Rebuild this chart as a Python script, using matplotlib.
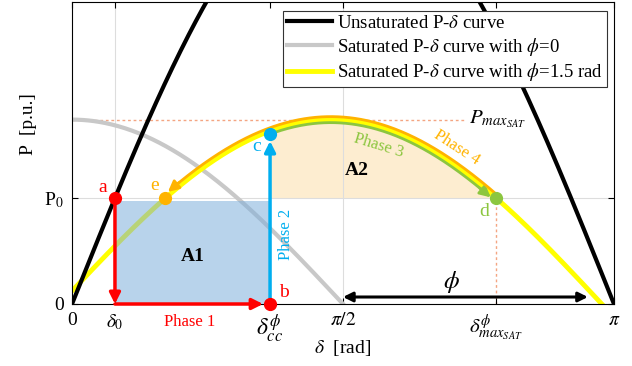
import numpy as np
import matplotlib
matplotlib.use("Agg")
import matplotlib.pyplot as plt

plt.rcParams['font.family'] = ['Liberation Serif', 'DejaVu Serif']
plt.rcParams['mathtext.fontset'] = 'stix'

# parametros do caso (p.u. / rad)
P0 = 1.0
Pmax_sat = 1.74
phi = 1.5
delta0 = 0.249
delta_cc = 1.148
Pmax_unsat = P0 / np.sin(delta0)
delta_max = phi + np.arccos(P0 / Pmax_sat)
delta_e = phi - np.arccos(P0 / Pmax_sat)

xtick_labels = ['0', r'$\delta_0$', r'$\delta_{cc}^{\phi}$', r'$\pi/2$',
                r'$\delta^{\phi}_{max_{SAT}}$', r'$\pi$']
ytick_labels = ['0', r'P$_0$']
legend_labels = [r'Unsaturated P-$\delta$ curve',
                 r'Saturated P-$\delta$ curve with $\phi$=0',
                 r'Saturated P-$\delta$ curve with $\phi$=1.5 rad']

YELLOW = '#ffff00'
ORANGE = '#ffb300'
GREEN = '#8cc63f'
CYAN = '#00aeef'
RED = '#ff0000'
SALMON = '#f4a582'


def sat(d, ph):
    return Pmax_sat * np.cos(d - ph)


fig = plt.figure(figsize=(6.32, 3.66), dpi=100)
ax = fig.add_axes([72 / 632, 62 / 366, 542 / 632, 302 / 366])
ax.set_xlim(0, np.pi)
ax.set_ylim(0, 2.85)


def offset_curve(x, y, d_px):
    # desloca a curva na direcao normal (em pixels)
    pts = ax.transData.transform(np.c_[x, y])
    dx = np.gradient(pts[:, 0])
    dy = np.gradient(pts[:, 1])
    n = np.hypot(dx, dy)
    pts[:, 0] += -dy / n * d_px
    pts[:, 1] += dx / n * d_px
    out = ax.transData.inverted().transform(pts)
    return out[:, 0], out[:, 1]


# grade
for xv in [delta0, np.pi / 2]:
    ax.axvline(xv, color='#dddddd', lw=0.8, zorder=0.5)
ax.axhline(P0, color='#dddddd', lw=0.8, zorder=0.5)

# curvas
d = np.linspace(0, np.pi, 400)
l1, = ax.plot(d, Pmax_unsat * np.sin(d), color='black', lw=3, zorder=3)
dg = np.linspace(0, np.pi / 2, 200)
l2, = ax.plot(dg, sat(dg, 0), color='#c8c8c8', lw=3, zorder=2)
dy_ = np.linspace(0, phi + np.pi / 2, 400)
l3, = ax.plot(dy_, sat(dy_, phi), color=YELLOW, lw=3.5, zorder=2.5)

# area A2
da = np.linspace(delta_cc, delta_max, 200)
ax.fill_between(da, P0, sat(da, phi), color='#fbd38a', alpha=0.4, lw=0, zorder=0.4)

# area A1
ax.fill_between([delta0, delta_cc], 0, P0 * 0.97, color='#7fb0dc', alpha=0.55,
                lw=0, zorder=3.5)

# Pmax e delta_max tracejados
ax.plot([0, 2.27], [Pmax_sat, Pmax_sat], ls=(0, (2, 2)), color=SALMON, lw=1, zorder=1)
ax.plot([delta_max, delta_max], [0, P0], ls=(0, (2, 2)), color=SALMON, lw=1, zorder=1)

# fase 3 (verde, abaixo da curva)
d3 = np.linspace(delta_cc + 0.02, delta_max, 200)
x3, y3 = offset_curve(d3, sat(d3, phi), -3)
ax.plot(x3[:-12], y3[:-12], color=GREEN, lw=2, zorder=4)
ax.annotate('', xy=(x3[-4], y3[-4]), xytext=(x3[-14], y3[-14]),
            arrowprops=dict(arrowstyle='-|>', color=GREEN, lw=2,
                            mutation_scale=16, shrinkA=0, shrinkB=0), zorder=4)

# fase 4 (laranja, acima da curva)
d4 = np.linspace(delta_max, delta_e, 300)
x4, y4 = offset_curve(d4, sat(d4, phi), -3)
ax.plot(x4[:-12], y4[:-12], color=ORANGE, lw=2, zorder=4)
ax.annotate('', xy=(x4[-5], y4[-5]), xytext=(x4[-15], y4[-15]),
            arrowprops=dict(arrowstyle='-|>', color=ORANGE, lw=2,
                            mutation_scale=16, shrinkA=0, shrinkB=0), zorder=4)

# fase 1 e 2
arr = dict(arrowstyle='-|>', lw=2.5, mutation_scale=16, shrinkA=0, shrinkB=0)
ax.annotate('', xy=(delta0, 0.0), xytext=(delta0, P0),
            arrowprops=dict(arr, color=RED), zorder=5)
ax.annotate('', xy=(delta_cc, 0.0), xytext=(delta0, 0.0),
            arrowprops=dict(arr, color=RED, shrinkB=5), zorder=5)
P_c = sat(delta_cc, phi) - 0.03
ax.annotate('', xy=(delta_cc, P_c), xytext=(delta_cc, 0.0),
            arrowprops=dict(arr, color=CYAN, shrinkB=5), zorder=5)

# pontos
ms = 8.5
ax.plot(delta0, P0, 'o', color=RED, ms=ms, zorder=6, clip_on=False)
ax.plot(delta_cc, 0, 'o', color=RED, ms=ms, zorder=6, clip_on=False)
ax.plot(delta_cc, P_c, 'o', color=CYAN, ms=ms, zorder=6)
ax.plot(delta_max, P0, 'o', color=GREEN, ms=ms, zorder=6)
ax.plot(delta_e, P0, 'o', color=ORANGE, ms=ms, zorder=6)

fs = 14
ax.text(0.18, 1.10, 'a', color=RED, fontsize=fs, ha='center', va='center', zorder=7)
ax.text(1.23, 0.11, 'b', color=RED, fontsize=fs, ha='center', va='center', zorder=7)
ax.text(1.07, 1.49, 'c', color=CYAN, fontsize=fs, ha='center', va='center', zorder=7)
ax.text(2.39, 0.87, 'd', color=GREEN, fontsize=fs, ha='center', va='center', zorder=7)
ax.text(0.48, 1.12, 'e', color=ORANGE, fontsize=fs, ha='center', va='center', zorder=7)
ax.text(0.70, 0.45, 'A1', fontsize=fs, fontweight='bold', ha='center', va='center', zorder=7)
ax.text(1.65, 1.26, 'A2', fontsize=fs, fontweight='bold', ha='center', va='center', zorder=7)

ax.text(0.68, -0.17, 'Phase 1', color=RED, fontsize=12, ha='center', va='center',
        clip_on=False)
ax.text(1.24, 0.66, 'Phase 2', color=CYAN, fontsize=12, rotation=90,
        ha='center', va='center', zorder=7)
ax.text(1.78, 1.49, 'Phase 3', color=GREEN, fontsize=12, rotation=-17,
        ha='center', va='center', zorder=7)
ax.text(2.23, 1.48, 'Phase 4', color=ORANGE, fontsize=12, rotation=-33,
        ha='center', va='center', zorder=7)
ax.text(2.30, Pmax_sat, r'$P_{max_{SAT}}$', fontsize=15, ha='left', va='center',
        zorder=7)

# phi
ax.annotate('', xy=(np.pi / 2 + phi, 0.066), xytext=(np.pi / 2, 0.066),
            arrowprops=dict(arrowstyle='<|-|>', color='black', lw=2.2,
                            mutation_scale=14, shrinkA=0, shrinkB=10), zorder=5)
ax.text(2.20, 0.21, r'$\phi$', fontsize=18, ha='center', va='center')

# eixos
ax.set_xticks([0, delta0, delta_cc, np.pi / 2, delta_max, np.pi])
ax.set_xticklabels(xtick_labels, fontsize=14)
tl = ax.get_xticklabels()
tl[2].set_fontsize(17)
tl[4].set_fontsize(15)
ax.set_yticks([0, P0])
ax.set_yticklabels(ytick_labels, fontsize=14)
ax.tick_params(direction='in', top=True, right=True, length=4, width=0.8, pad=6)
for s in ax.spines.values():
    s.set_linewidth(0.8)

ax.set_xlabel(r'$\delta$  [rad]', fontsize=14, va='center')
ax.set_ylabel('P  [p.u.]', fontsize=14, va='center')
ax.xaxis.set_label_coords(0.5, -0.146)
ax.yaxis.set_label_coords(-0.08, 0.595)

leg = ax.legend([l1, l2, l3], legend_labels, loc='upper right',
                bbox_to_anchor=(0.987, 0.97), borderaxespad=0, fontsize=13.5,
                handlelength=2.4, borderpad=0.2, labelspacing=0.2,
                handletextpad=0.3, fancybox=False, framealpha=1,
                edgecolor='#333333')
leg.get_frame().set_linewidth(0.8)
leg.set_zorder(10)

fig.savefig('out.png', dpi=100)
